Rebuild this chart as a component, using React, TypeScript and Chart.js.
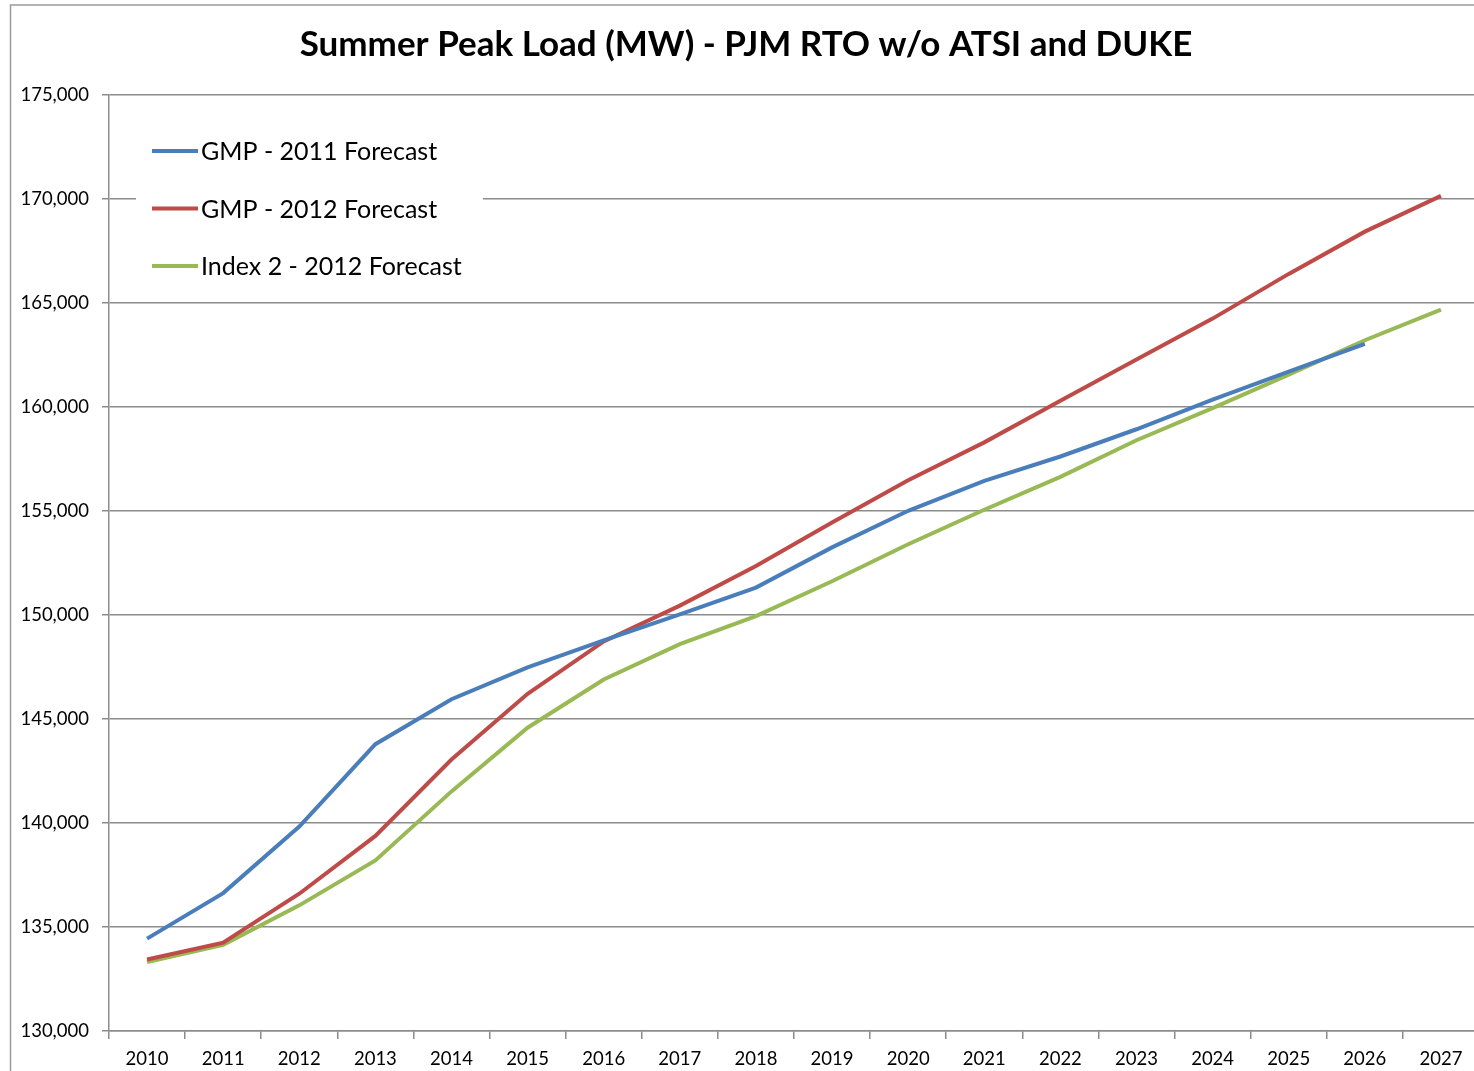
import React, { useEffect, useRef } from "react";
import { Chart, registerables } from "chart.js";

Chart.register(...registerables);

const TITLE = "Summer Peak Load (MW) - PJM RTO w/o ATSI and DUKE";
const years = ["2010","2011","2012","2013","2014","2015","2016","2017","2018","2019","2020","2021","2022","2023","2024","2025","2026","2027"];
const gmp2011 = [134440, 136630, 139830, 143790, 145950, 147480, 148780, 150030, 151320, 153250, 155010, 156450, 157620, 158930, 160350, 161700, 163030, null];
const gmp2012 = [133440, 134250, 136600, 139380, 143050, 146210, 148730, 150450, 152360, 154450, 156480, 158300, 160300, 162280, 164250, 166400, 168430, 170150];
const index2 = [133320, 134140, 136040, 138200, 141520, 144580, 146900, 148600, 149950, 151620, 153400, 155060, 156640, 158400, 159950, 161560, 163210, 164680];
const seriesNames = ["GMP - 2011 Forecast", "GMP - 2012 Forecast", "Index 2 - 2012 Forecast"];
const seriesColors = ["#4A7EBB", "#BE4B48", "#98B954"];
const yMin = 130000;
const yMax = 175000;
const yStep = 5000;

const FONT = "Lato, 'Open Sans', sans-serif";

const decorPlugin = {
  id: "decor",
  beforeDraw(chart: any) {
    const ctx = chart.ctx;
    ctx.save();
    ctx.fillStyle = "#ffffff";
    ctx.fillRect(0, 0, chart.width, chart.height);
    ctx.strokeStyle = "#9a9a9a";
    ctx.lineWidth = 1.5;
    ctx.beginPath();
    ctx.moveTo(10.5, chart.height);
    ctx.lineTo(10.5, 5);
    ctx.lineTo(chart.width, 5);
    ctx.stroke();
    ctx.restore();
  },
  afterDraw(chart: any) {
    const ctx = chart.ctx;
    ctx.save();
    // title
    ctx.fillStyle = "#000000";
    ctx.font = "bold 35px " + FONT;
    ctx.textAlign = "center";
    ctx.textBaseline = "middle";
    ctx.fillText(TITLE, 746, 45);
    // legend
    ctx.fillStyle = "#ffffff";
    ctx.fillRect(136, 120, 347, 172);
    const ds = chart.data.datasets;
    ctx.font = "25px " + FONT;
    ctx.textAlign = "left";
    ctx.textBaseline = "middle";
    for (let i = 0; i < ds.length; i++) {
      const y = 151 + i * 57.5;
      ctx.strokeStyle = ds[i].borderColor;
      ctx.lineWidth = 4;
      ctx.beginPath();
      ctx.moveTo(152, y);
      ctx.lineTo(198, y);
      ctx.stroke();
      ctx.fillStyle = "#000000";
      ctx.fillText(ds[i].label, 201, y + 1);
    }
    ctx.restore();
  },
};

export default function App() {
  const ref = useRef<HTMLCanvasElement | null>(null);
  useEffect(() => {
    if (!ref.current) return;
    const data = [gmp2011, gmp2012, index2];
    const chart = new Chart(ref.current, {
      type: "line",
      data: {
        labels: years,
        datasets: data.map((d, i) => ({
          label: seriesNames[i],
          data: d,
          borderColor: seriesColors[i],
          backgroundColor: seriesColors[i],
          borderWidth: 4,
          pointRadius: 0,
          tension: 0,
          spanGaps: false,
        })),
      },
      options: {
        responsive: false,
        animation: false,
        devicePixelRatio: 1,
        layout: { padding: { top: 95, right: 11, bottom: 0, left: 0 } },
        plugins: { legend: { display: false }, title: { display: false }, tooltip: { enabled: false } },
        scales: {
          x: {
            type: "category",
            offset: true,
            grid: { offset: true, drawOnChartArea: false, drawTicks: true, tickLength: 8, color: "#8c8c8c", lineWidth: 1.5 },
            border: { color: "#8c8c8c", width: 1.5 },
            ticks: { color: "#000", font: { family: FONT, size: 18.5 }, padding: 9, maxRotation: 0, autoSkip: false },
            afterFit(scale: any) { scale.height = 40; },
          },
          y: {
            min: yMin,
            max: yMax,
            grid: { color: "#8c8c8c", lineWidth: 1.5, tickLength: 7 },
            border: { color: "#8c8c8c", width: 1.5 },
            ticks: {
              stepSize: yStep,
              color: "#000",
              font: { family: FONT, size: 18.5 },
              padding: 13,
              callback: (v: any) => Number(v).toLocaleString("en-US"),
            },
            afterFit(scale: any) { scale.width = 109; },
          },
        },
      },
      plugins: [decorPlugin],
    });
    return () => chart.destroy();
  }, []);
  return (
    <div style={{ position: "absolute", left: 0, top: 0, width: 1474, height: 1071, overflow: "hidden", background: "#fff" }}>
      <canvas ref={ref} width={1490} height={1071} style={{ display: "block" }} />
    </div>
  );
}
